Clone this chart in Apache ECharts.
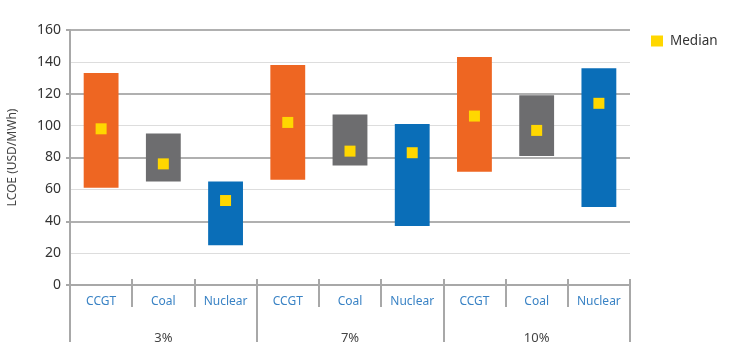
<!DOCTYPE html>
<html><head><meta charset="utf-8">
<script src="https://cdn.jsdelivr.net/npm/echarts@6/dist/echarts.min.js"></script>
<style>html,body{margin:0;padding:0;background:#fff}#c{width:737px;height:355px}</style>
</head><body><div id="c"></div>
<script>
var categories = ['CCGT','Coal','Nuclear','CCGT','Coal','Nuclear','CCGT','Coal','Nuclear'];
var groups = ['3%','7%','10%'];
var low    = [61, 65, 25, 66, 75, 37, 71, 81, 49];
var high   = [133, 95, 65, 138, 107, 101, 143, 119, 136];
var median = [98, 76, 53, 102, 84, 83, 106, 97, 114];
var yTicks = [0, 20, 40, 60, 80, 100, 120, 140, 160];

var techColors = {CCGT:'#EE6622', Coal:'#6D6D6F', Nuclear:'#0A6EB8'};
var rangeData = high.map(function(h,i){
  return {value: h - low[i], itemStyle:{color: techColors[categories[i]]}};
});
var font = 'Noto Sans';
var chart = echarts.init(document.getElementById('c'));
chart.setOption({
  animation:false,
  textStyle:{fontFamily:font},
  legend:{data:[{name:'Median', icon:'rect'}], left:646, top:29, itemWidth:12, itemHeight:11, itemGap:10,
    itemStyle:{borderWidth:0, opacity:1},
    textStyle:{fontSize:13.5, color:'#333', fontFamily:font, padding:[0,0,0,2]}},
  grid:{left:70, right:107, top:30, bottom:70, containLabel:false, outerBoundsMode:'none'},
  xAxis:[
    {type:'category', data:categories, position:'bottom',
     axisLine:{lineStyle:{color:'#A8A8A8', width:2}},
     axisTick:{show:true, interval:0, length:22, lineStyle:{color:'#A8A8A8', width:2}},
     axisLabel:{interval:0, margin:11, fontSize:12, color:'#3A83C5', fontFamily:font}},
    {type:'category', data:groups, position:'bottom',
     axisLine:{show:false},
     axisTick:{show:true, interval:0, length:57, lineStyle:{color:'#A8A8A8', width:2}},
     axisLabel:{interval:0, margin:47, fontSize:13, color:'#444', fontFamily:font}},
    {type:'category', data:categories, position:'bottom',
     axisLine:{show:false},
     axisTick:{show:true, inside:true, interval:0, length:6, lineStyle:{color:'#A8A8A8', width:2}},
     axisLabel:{show:false}}
  ],
  yAxis:[
    {type:'value', min:0, max:160, interval:20, position:'left',
     name:'LCOE (USD/MWh)', nameLocation:'middle', nameGap:51,
     nameTextStyle:{fontSize:12, color:'#444', fontFamily:font},
     axisLine:{show:true, lineStyle:{color:'#A8A8A8', width:2}},
     axisTick:{show:false},
     axisLabel:{fontSize:14, color:'#333', margin:9, fontFamily:font,
       formatter:function(v){return yTicks.indexOf(v)>=0 ? String(v) : '';}},
     splitLine:{lineStyle:{color:'#DDDDDD', width:1}}},
    {type:'value', min:0, max:160, interval:40, position:'left',
     axisLine:{show:false},
     axisTick:{show:true, length:4, lineStyle:{color:'#A8A8A8', width:2}},
     axisLabel:{show:false},
     splitLine:{lineStyle:{color:'#B0B0B0', width:2}}}
  ],
  series:[
    {type:'bar', stack:'r', data:low, barWidth:'56%', itemStyle:{color:'transparent'},
     silent:true, xAxisIndex:0, yAxisIndex:0},
    {type:'bar', stack:'r', data:rangeData, barWidth:'56%', xAxisIndex:0, yAxisIndex:0},
    {type:'scatter', name:'Median', data:median, symbol:'rect', symbolSize:11,
     itemStyle:{color:'#FFD700', borderWidth:0, opacity:1}, xAxisIndex:0, yAxisIndex:0, z:5}
  ]
});
</script></body></html>
